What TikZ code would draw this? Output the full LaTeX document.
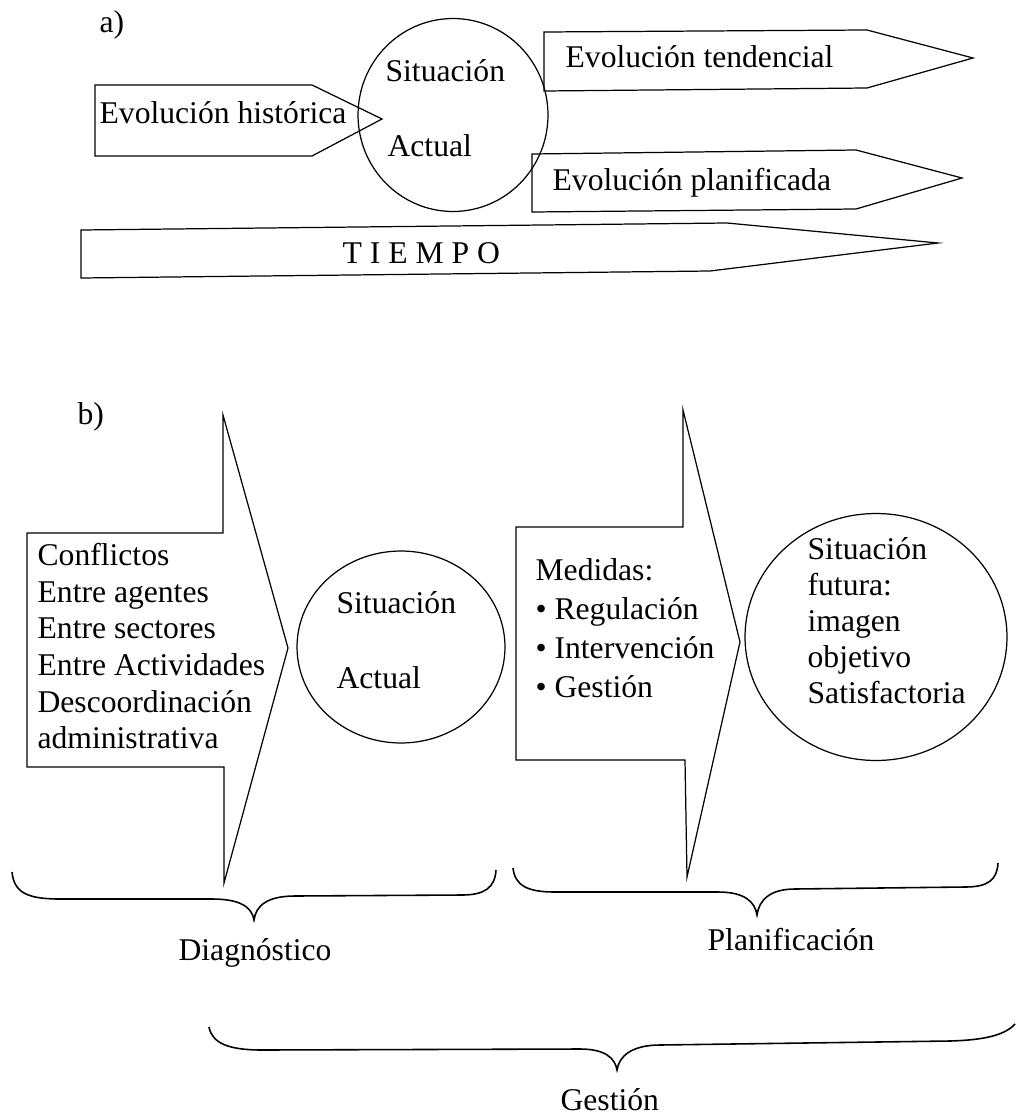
\documentclass[tikz,border=0pt]{standalone}
\usepackage{fontspec}
\setmainfont{Liberation Serif}
\usetikzlibrary{shapes.geometric}

\begin{document}
\begin{tikzpicture}[x=0.02cm, y=-0.02cm, line width=0.7pt,
        texto/.style={inner sep=0pt, font=\fontsize{18}{20.8}\selectfont},
        globo/.style={draw, shape=ellipse, inner sep=0pt},
        llave/.style={line width=0.9pt}]

                \useasboundingbox (0, 0) rectangle (1015, 1115);

                \node[texto, anchor=base west] (etiqa) at (99, 33) {a)};

                \draw (95, 85) -- (312, 85) -- (382, 119) -- (312, 156) -- (95, 156) -- cycle;
                \node[texto, anchor=base west] (historica) at (99, 123) {Evolución histórica};

                \node[globo, minimum width=3.8cm, minimum height=3.86cm] (actuala) at (453, 115) {};
                \node[texto, anchor=base west] (sita) at (385, 82) {Situación};
                \node[texto, anchor=base west] (acta) at (387, 156) {Actual};

                \draw (544, 32) -- (867, 30) -- (973, 58) -- (867, 88) -- (544, 91) -- cycle;
                \node[texto, anchor=base west] (tendencial) at (565, 68) {Evolución tendencial};

                \draw (532, 154) -- (856, 150) -- (962, 178) -- (856, 209) -- (532, 212) -- cycle;
                \node[texto, anchor=base west] (planificada) at (552, 190) {Evolución planificada};

                \draw (81, 230) -- (727, 223) -- (938, 243) -- (710, 271) -- (81, 278) -- cycle;
                \node[texto, anchor=base west] (tiempo) at (342, 263) {T I E M P O};

                \node[texto, anchor=base west] (etiqb) at (77, 424) {b)};

                \draw (27, 533) -- (223, 533) -- (223, 415) -- (288, 648) -- (224, 883) -- (224, 767) -- (27, 767) -- cycle;
                \node[texto, anchor=north west, align=left] (conflictos) at (37, 543) {Conflictos\\Entre agentes\\Entre sectores\\Entre Actividades\\Descoordinación\\administrativa};

                \node[globo, minimum width=4.16cm, minimum height=3.84cm] (actualb) at (401, 647) {};
                \node[texto, anchor=base west] (sitb) at (336, 613) {Situación};
                \node[texto, anchor=base west] (actb) at (336, 688) {Actual};

                \draw (516, 527) -- (683, 527) -- (683, 410) -- (740, 642) -- (687, 877) -- (685, 760) -- (516, 760) -- cycle;
                \node[texto, font=\fontsize{18}{22.2}\selectfont, anchor=north west, align=left] (medidas) at (535, 558) {Medidas:\\• Regulación\\• Intervención\\• Gestión};

                \node[globo, minimum width=5.24cm, minimum height=4.94cm] (futura) at (876, 637) {};
                \node[texto, font=\fontsize{18}{20.5}\selectfont, anchor=north west, align=left] (imagen) at (807, 537) {Situación\\futura:\\imagen\\objetivo\\Satisfactoria};

                \draw[llave] (12, 872) .. controls (14, 893) and (28, 899) .. (60, 899) -- (212, 899) .. controls (240, 899) and (252, 907) .. (254, 920) .. controls (256, 905) and (268, 896) .. (295, 896) -- (462, 895) .. controls (484, 895) and (495, 888) .. (496, 870);
                \node[texto, anchor=base west] (diagnostico) at (178, 960) {Diagnóstico};

                \draw[llave] (513, 868) .. controls (515, 886) and (528, 892) .. (555, 892) -- (718, 892) .. controls (745, 892) and (755, 902) .. (757, 915) .. controls (759, 900) and (770, 889) .. (795, 889) -- (965, 887) .. controls (988, 887) and (997, 880) .. (998, 863);
                \node[texto, anchor=base west] (planificacion) at (707, 950) {Planificación};

                \draw[llave] (209, 1027) .. controls (212, 1043) and (228, 1050) .. (262, 1050) -- (580, 1049) .. controls (605, 1049) and (615, 1058) .. (617, 1070) .. controls (619, 1056) and (632, 1045) .. (660, 1045) -- (950, 1041) .. controls (985, 1040) and (1005, 1035) .. (1015, 1024);
                \node[texto, anchor=base west] (gestion) at (560, 1110) {Gestión};

\end{tikzpicture}
\end{document}
